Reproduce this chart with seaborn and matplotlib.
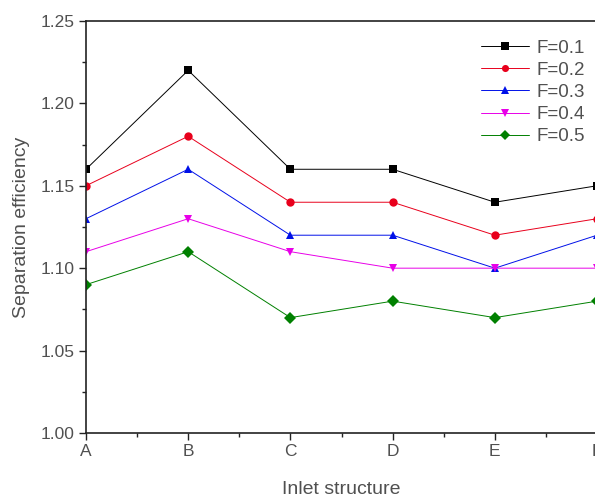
import matplotlib.pyplot as plt
from matplotlib.ticker import MultipleLocator, AutoMinorLocator
import seaborn as sns
import pandas as pd

# data
structures = ['A', 'B', 'C', 'D', 'E', 'F']
series_names = ['F=0.1', 'F=0.2', 'F=0.3', 'F=0.4', 'F=0.5']
f01 = [1.16, 1.22, 1.16, 1.16, 1.14, 1.15]
f02 = [1.15, 1.18, 1.14, 1.14, 1.12, 1.13]
f03 = [1.13, 1.16, 1.12, 1.12, 1.10, 1.12]
f04 = [1.11, 1.13, 1.11, 1.10, 1.10, 1.10]
f05 = [1.09, 1.11, 1.07, 1.08, 1.07, 1.08]

colors = ['#000000', '#e8001c', '#0010e8', '#e800e8', '#008000']
markers = ['s', 'o', '^', 'v', 'D']

sns.set_style('ticks')
plt.rcParams['font.family'] = ['Liberation Sans', 'DejaVu Sans']

rows = []
for name, vals in zip(series_names, [f01, f02, f03, f04, f05]):
  for i, v in enumerate(vals):
    rows.append({'x': i, 'value': v, 'series': name})
df = pd.DataFrame(rows)

fig = plt.figure(figsize=(5.95, 4.98), dpi=100)
ax = fig.add_axes([0.1445, 0.1305, 0.859, 0.8275])

sns.lineplot(data=df, x='x', y='value', hue='series', style='series',
             palette=colors, markers=markers, dashes=False, linewidth=0.7,
             markersize=6, markeredgewidth=0, ax=ax)

ax.set_xlim(0, 5)
ax.set_ylim(1.00, 1.25)
ax.set_xticks(range(len(structures)))
ax.set_xticklabels(structures)
ax.xaxis.set_minor_locator(AutoMinorLocator(2))
ax.yaxis.set_major_locator(MultipleLocator(0.05))
ax.yaxis.set_minor_locator(AutoMinorLocator(2))
ax.yaxis.set_major_formatter(plt.FormatStrFormatter('%.2f'))

txt = '#505050'
ax.tick_params(which='major', direction='out', length=5, width=1, colors='#222222',
               labelcolor=txt, labelsize=12.5, pad=3)
ax.tick_params(which='minor', direction='out', length=3, width=1, colors='#222222')
for s in ax.spines.values():
  s.set_linewidth(1.2)
  s.set_color('#222222')

ax.set_xlabel('Inlet structure', fontsize=14, color=txt, labelpad=16)
ax.set_ylabel('Separation efficiency', fontsize=14, color=txt, labelpad=8)

leg = ax.legend(loc='upper right', bbox_to_anchor=(0.977, 0.955), frameon=False,
                fontsize=13.5, handlelength=2.6, labelspacing=0.27, handletextpad=0.4,
                borderaxespad=0, borderpad=0, markerscale=0.85)
for t in leg.get_texts():
  t.set_color(txt)

fig.savefig('out.png', dpi=100)
